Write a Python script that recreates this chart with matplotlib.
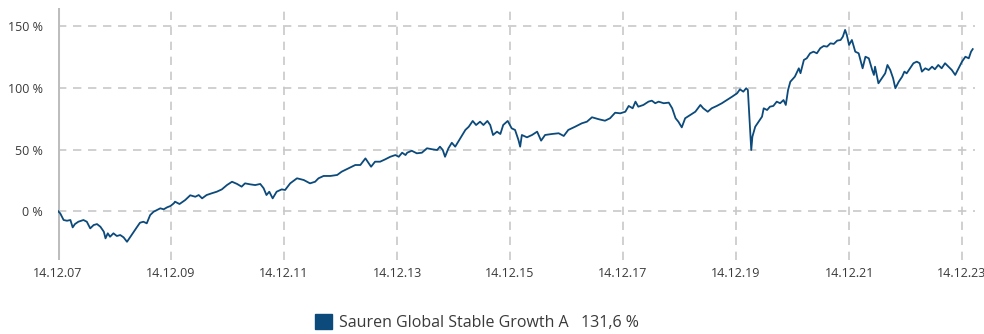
import datetime as dt
import matplotlib
matplotlib.use("Agg")
import matplotlib.pyplot as plt
from matplotlib.patches import Patch

plt.rcParams["font.family"] = ["Open Sans", "DejaVu Sans"]

# Fund performance since launch (cumulative %, decimal year -> value)
years = [
    2007.95, 2007.99, 2008.05, 2008.11, 2008.17, 2008.21, 2008.25, 2008.31, 2008.40, 2008.46,
    2008.52, 2008.58, 2008.64, 2008.70, 2008.76, 2008.79, 2008.83, 2008.87, 2008.93, 2008.99,
    2009.05, 2009.11, 2009.17, 2009.23, 2009.29, 2009.35, 2009.40, 2009.46, 2009.52, 2009.58,
    2009.64, 2009.70, 2009.76, 2009.82, 2009.88, 2009.94, 2010.00, 2010.02, 2010.10, 2010.20,
    2010.29, 2010.38, 2010.44, 2010.50, 2010.58, 2010.67, 2010.76, 2010.85, 2010.94, 2011.03,
    2011.12, 2011.20, 2011.26, 2011.35, 2011.44, 2011.53, 2011.59, 2011.64, 2011.69, 2011.75,
    2011.82, 2011.91, 2011.97, 2012.06, 2012.18, 2012.30, 2012.41, 2012.50, 2012.56, 2012.65,
    2012.77, 2012.89, 2012.97, 2013.09, 2013.21, 2013.30, 2013.39, 2013.49, 2013.56, 2013.65,
    2013.74, 2013.83, 2013.92, 2013.98, 2014.04, 2014.10, 2014.13, 2014.21, 2014.30, 2014.39,
    2014.48, 2014.57, 2014.66, 2014.71, 2014.76, 2014.80, 2014.86, 2014.92, 2014.98, 2015.07,
    2015.16, 2015.22, 2015.29, 2015.35, 2015.42, 2015.48, 2015.55, 2015.60, 2015.65, 2015.72,
    2015.78, 2015.83, 2015.91, 2015.98, 2016.04, 2016.10, 2016.13, 2016.16, 2016.25, 2016.34,
    2016.43, 2016.50, 2016.57, 2016.69, 2016.81, 2016.90, 2016.98, 2017.10, 2017.22, 2017.31,
    2017.40, 2017.52, 2017.63, 2017.72, 2017.81, 2017.90, 2017.99, 2018.05, 2018.12, 2018.17,
    2018.22, 2018.31, 2018.40, 2018.46, 2018.52, 2018.58, 2018.67, 2018.76, 2018.82, 2018.88,
    2018.93, 2018.99, 2019.05, 2019.14, 2019.23, 2019.32, 2019.37, 2019.45, 2019.52, 2019.61,
    2019.70, 2019.79, 2019.88, 2019.97, 2020.02, 2020.08, 2020.13, 2020.16, 2020.18, 2020.22,
    2020.24, 2020.29, 2020.35, 2020.41, 2020.44, 2020.50, 2020.55, 2020.61, 2020.67, 2020.73,
    2020.79, 2020.83, 2020.87, 2020.91, 2020.99, 2021.06, 2021.09, 2021.15, 2021.20, 2021.26,
    2021.32, 2021.38, 2021.44, 2021.50, 2021.56, 2021.62, 2021.68, 2021.74, 2021.80, 2021.84,
    2021.88, 2021.91, 2021.95, 2022.00, 2022.06, 2022.12, 2022.19, 2022.24, 2022.30, 2022.36,
    2022.39, 2022.41, 2022.47, 2022.53, 2022.59, 2022.63, 2022.68, 2022.73, 2022.77, 2022.83,
    2022.89, 2022.93, 2022.97, 2023.03, 2023.09, 2023.15, 2023.20, 2023.24, 2023.30, 2023.36,
    2023.42, 2023.47, 2023.53, 2023.59, 2023.65, 2023.71, 2023.77, 2023.83, 2023.89, 2023.95,
    2024.01, 2024.07, 2024.11, 2024.14,
]
values = [
    0.0, -1.9, -7.3, -7.9, -7.3, -13.3, -10.6, -8.7, -7.3, -8.7,
    -14.1, -11.4, -10.6, -12.8, -16.8, -22.2, -18.1, -20.9, -18.1, -20.3,
    -19.5, -21.4, -25.0, -20.9, -16.8, -12.8, -9.5, -8.7, -10.0, -3.3,
    -0.6, 0.8, 2.2, 1.4, 3.0, 4.1, 6.3, 7.6, 5.7, 8.9,
    12.8, 11.6, 13.0, 10.3, 13.0, 14.4, 15.7, 17.6, 21.1, 23.8,
    22.0, 19.8, 22.5, 21.7, 21.1, 22.0, 18.5, 13.0, 15.7, 10.3,
    15.7, 17.6, 17.1, 22.5, 26.6, 25.2, 22.5, 23.8, 26.6, 28.5,
    28.5, 29.3, 32.0, 34.7, 37.4, 37.4, 42.8, 36.0, 40.1, 40.1,
    42.0, 44.1, 45.5, 44.1, 47.4, 45.5, 47.4, 49.0, 46.9, 47.4,
    51.0, 50.2, 49.6, 52.3, 49.6, 44.1, 51.0, 55.5, 52.3, 59.1,
    65.9, 68.5, 73.2, 69.9, 72.6, 69.9, 73.2, 69.9, 61.8, 64.5,
    62.6, 69.9, 73.2, 67.2, 65.9, 57.7, 52.3, 61.8, 59.9, 61.8,
    64.5, 57.2, 61.8, 62.6, 63.2, 61.0, 65.9, 68.5, 71.3, 72.6,
    76.2, 74.6, 73.4, 75.4, 79.9, 79.4, 80.7, 85.4, 83.5, 88.9,
    84.8, 86.2, 88.9, 89.7, 87.6, 88.9, 87.6, 88.1, 83.5, 75.4,
    72.6, 68.0, 75.4, 78.0, 80.7, 86.2, 83.5, 80.7, 83.5, 85.4,
    87.6, 90.2, 92.9, 95.7, 98.9, 97.0, 99.8, 98.4, 82.1, 49.6,
    60.4, 68.5, 72.6, 76.7, 83.5, 82.1, 84.8, 85.4, 88.9, 87.6,
    90.2, 86.2, 98.4, 105.1, 109.2, 116.0, 112.0, 122.8, 124.1, 128.2,
    129.5, 128.2, 132.3, 134.1, 133.6, 136.3, 135.8, 138.5, 139.0, 141.7,
    147.2, 143.1, 135.0, 139.0, 129.5, 128.2, 116.0, 125.4, 124.1, 114.6,
    110.6, 117.3, 103.8, 107.9, 111.9, 118.7, 114.6, 107.9, 99.8, 105.1,
    109.2, 113.3, 111.9, 116.0, 120.1, 121.4, 120.1, 113.3, 116.0, 114.6,
    117.3, 115.2, 118.7, 116.0, 120.1, 117.3, 114.6, 110.6, 116.0, 121.4,
    125.4, 124.1, 129.5, 131.6,
]

tick_dates = ["14.12.07", "14.12.09", "14.12.11", "14.12.13", "14.12.15",
              "14.12.17", "14.12.19", "14.12.21", "14.12.23"]
y_ticks = [0, 50, 100, 150]
series_name = "Sauren Global Stable Growth A"
final_value = "131,6 %"


def to_date(y):
    year = int(y)
    start = dt.datetime(year, 1, 1)
    end = dt.datetime(year + 1, 1, 1)
    return start + (end - start) * (y - year)


dates = [to_date(y) for y in years]
ticks = [dt.datetime.strptime(t, "%d.%m.%y") for t in tick_dates]

LINE = "#0b4a7b"
GRID = "#c8c8c8"
TEXT = "#3a3a3a"

fig = plt.figure(figsize=(9.84, 3.34), dpi=100)
ax = fig.add_axes([58 / 984, 74 / 334, 917 / 984, 252 / 334])

ax.plot(dates, values, color=LINE, lw=1.3, solid_joinstyle="round", zorder=3)

ax.set_xlim(ticks[0], to_date(2024.18))
ax.set_ylim(-39.8, 165)

ax.set_xticks(ticks)
ax.set_xticklabels(tick_dates)
ax.set_yticks(y_ticks)
ax.set_yticklabels([f"{v} %" for v in y_ticks])

for spine in ax.spines.values():
    spine.set_visible(False)

ax.grid(True, color=GRID, lw=1.2, linestyle=(0, (5, 4)))
ax.axvline(ticks[0], color="#bdbdbd", lw=2.2, zorder=2)

ax.tick_params(axis="both", length=0, labelsize=9, colors=TEXT)
ax.tick_params(axis="x", pad=5)
ax.tick_params(axis="y", pad=11)

handle = Patch(facecolor=LINE, edgecolor=LINE)
fig.legend([handle], [f"{series_name}   {final_value}"],
           loc="center", bbox_to_anchor=(0.485, 0.035), frameon=False,
           fontsize=11.5, handlelength=1.06, handleheight=1.06, handletextpad=0.45,
           labelcolor=TEXT)

fig.savefig("out.png", dpi=100)
